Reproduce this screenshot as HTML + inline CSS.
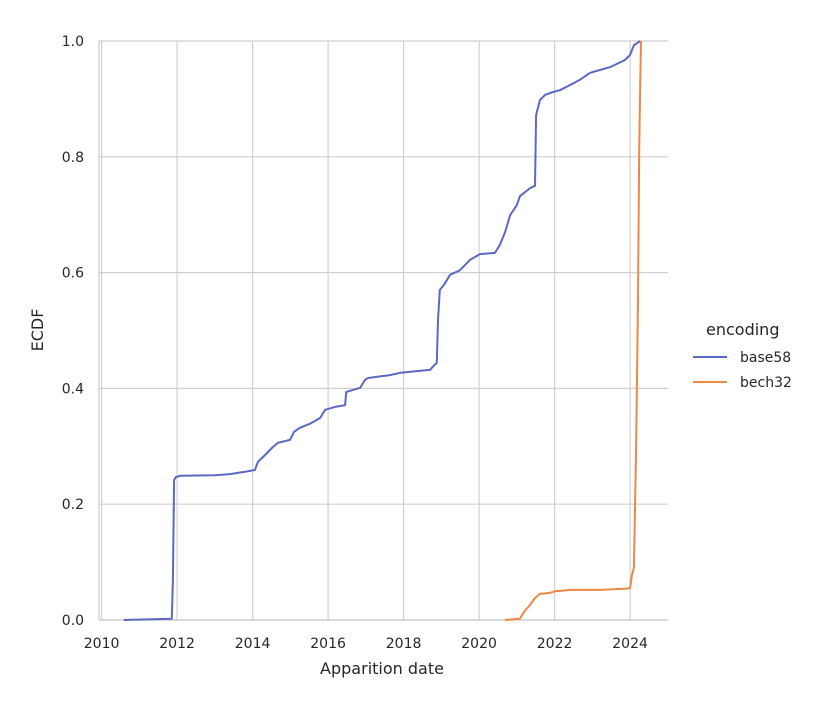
<!DOCTYPE html>
<html><head><meta charset="utf-8">
<style>
body{margin:0;background:#fff;}
svg text{font-family:"DejaVu Sans","Liberation Sans",sans-serif;fill:#262626;}
</style></head>
<body>
<svg id="chart" width="825" height="700" xmlns="http://www.w3.org/2000/svg">
<g id="grid"></g>
<g id="axes"></g>
<g id="series"></g>
<text x="382" y="674" text-anchor="middle" font-size="16">Apparition date</text>
<text transform="translate(43,330) rotate(-90)" text-anchor="middle" font-size="16">ECDF</text>
<g>
<text x="706" y="335" font-size="16">encoding</text>
<g>
<line x1="693" y1="357" x2="727" y2="357" stroke="#5a69c3" stroke-width="2"/>
<text x="740" y="362" font-size="14">base58</text></g>
<g>
<line x1="693" y1="382" x2="727" y2="382" stroke="#ee8844" stroke-width="2"/>
<text x="740" y="387" font-size="14">bech32</text></g>
</g>
</svg>
<script>
const xTicks=[2010,2012,2014,2016,2018,2020,2022,2024];
const yTicks=[0,0.2,0.4,0.6,0.8,1.0];
const base58Years=[2010.59,2011.86,2011.89,2011.92,2011.97,2012.08,2013.0,2013.4,2013.8,2014.06,2014.14,2014.33,2014.51,2014.67,2014.99,2015.10,2015.25,2015.52,2015.79,2015.92,2016.18,2016.45,2016.48,2016.85,2016.98,2017.06,2017.64,2017.91,2018.70,2018.81,2018.88,2018.91,2018.96,2019.07,2019.23,2019.49,2019.76,2020.02,2020.42,2020.55,2020.69,2020.82,2021.0,2021.08,2021.35,2021.48,2021.51,2021.61,2021.75,2021.96,2022.14,2022.41,2022.67,2022.94,2023.20,2023.47,2023.86,2024.0,2024.1,2024.27];
const base58Ecdf=[0,0.002,0.069,0.242,0.247,0.249,0.250,0.252,0.256,0.259,0.273,0.285,0.297,0.306,0.311,0.325,0.332,0.339,0.349,0.363,0.368,0.371,0.394,0.401,0.415,0.418,0.423,0.427,0.432,0.440,0.444,0.518,0.570,0.579,0.596,0.604,0.622,0.632,0.634,0.648,0.670,0.699,0.717,0.732,0.746,0.750,0.872,0.898,0.907,0.912,0.915,0.924,0.933,0.945,0.950,0.955,0.967,0.976,0.993,1.0];
const bech32Years=[2020.69,2021.08,2021.19,2021.35,2021.48,2021.61,2021.75,2021.88,2022.04,2022.14,2022.41,2023.20,2023.86,2024.0,2024.05,2024.1,2024.16,2024.21,2024.24,2024.27,2024.29];
const bech32Ecdf=[0,0.002,0.014,0.026,0.038,0.045,0.046,0.047,0.05,0.05,0.052,0.052,0.054,0.055,0.078,0.09,0.294,0.553,0.812,0.933,1.0];
const NS="http://www.w3.org/2000/svg";
const L=101.6,R=668,T=41,B=620;
const xS=y=>L+(y-2010)*37.75;
const yS=v=>B-v*(B-T);
function mk(tag,attrs,parent){const e=document.createElementNS(NS,tag);for(const k in attrs)e.setAttribute(k,attrs[k]);parent.appendChild(e);return e;}
const grid=document.getElementById('grid'),axes=document.getElementById('axes'),series=document.getElementById('series');
xTicks.forEach(t=>{
 const l=mk('line',{x1:xS(t),x2:xS(t),y1:T,y2:B,stroke:'#d0d0d0','stroke-width':1.2},grid);
 
 
 const tx=mk('text',{x:xS(t),y:B+28,'text-anchor':'middle','font-size':14},axes);
 tx.textContent=t;
 
 
});
yTicks.forEach(t=>{
 const l=mk('line',{x1:99,x2:R,y1:yS(t),y2:yS(t),stroke:'#d0d0d0','stroke-width':1.2},grid);
 
 
 const tx=mk('text',{x:84,y:yS(t)+5,'text-anchor':'end','font-size':14},axes);
 tx.textContent=t.toFixed(1);
 
 
});
const sp1=mk('line',{x1:99,x2:99,y1:T,y2:B,stroke:'#cccccc','stroke-width':1.2},axes);


const sp2=mk('line',{x1:99,x2:R,y1:B,y2:B,stroke:'#cccccc','stroke-width':1.2},axes);


function line(xs,ys,color,name){
 const p=mk('polyline',{points:xs.map((x,i)=>xS(x).toFixed(1)+','+yS(ys[i]).toFixed(1)).join(' '),fill:'none',stroke:color,'stroke-width':2,'stroke-linejoin':'round'},series);
 
 
}
line(base58Years,base58Ecdf,'#5a69c3','base58-line');
line(bech32Years,bech32Ecdf,'#ee8844','bech32-line');
</script>
</body></html>
